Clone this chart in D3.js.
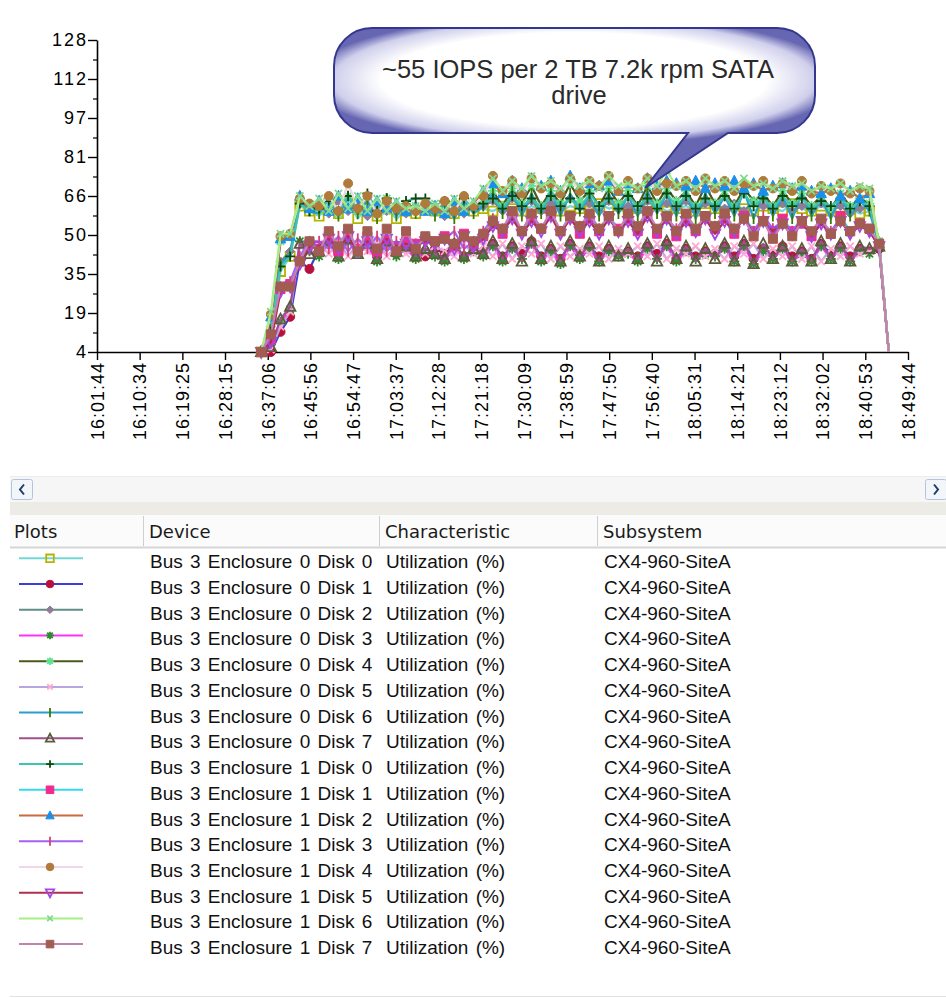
<!DOCTYPE html>
<html lang="en">
<head>
<meta charset="UTF-8">
<title>Bus 3 Disk Utilization</title>
<script src="https://d3js.org/d3.v7.min.js"></script>
<style>
  body { margin: 0; background: #fff; }
  svg text { font-family: "Liberation Sans", Arial, sans-serif; }
  .axis path, .axis line { stroke: #000; }
  .axis text { fill: #000; font-size: 18px; }
  .y-axis text { letter-spacing: 2px; }
  .x-axis text { letter-spacing: 1px; }
  .hdr { font-family: "DejaVu Sans", Tahoma, sans-serif !important; font-size: 18px; fill: #1a1a1a; }
  .row { font-size: 19px; fill: #111; word-spacing: 2px; }
</style>
</head>
<body>
<svg id="chart" width="946" height="998"></svg>
<script>
// x axis tick labels
const tickLabels = ["16:01:44", "16:10:34", "16:19:25", "16:28:15", "16:37:06", "16:45:56", "16:54:47",
  "17:03:37", "17:12:28", "17:21:18", "17:30:09", "17:38:59", "17:47:50", "17:56:40", "18:05:31",
  "18:14:21", "18:23:12", "18:32:02", "18:40:53", "18:49:44"];
// y axis ticks (labels shown rounded down)
const yTickValues = [4, 19.5, 35, 50.5, 66, 81.5, 97, 112.5, 128];
const yMinorValues = [11.75, 27.25, 42.75, 58.25, 73.75, 89.25, 104.75, 120.25];

// sample times (2 min interval)
const sampleTimes = [
  "16:35:45", "16:37:45", "16:39:45", "16:41:45", "16:43:45", "16:45:45", "16:47:45", "16:49:45",
  "16:51:45", "16:53:45", "16:55:45", "16:57:45", "16:59:45",
  "17:01:45", "17:03:45", "17:05:45", "17:07:45", "17:09:45", "17:11:45", "17:13:45", "17:15:45",
  "17:17:45", "17:19:45", "17:21:45", "17:23:45", "17:25:45", "17:27:45", "17:29:45", "17:31:45",
  "17:33:45", "17:35:45", "17:37:45", "17:39:45", "17:41:45", "17:43:45", "17:45:45", "17:47:45",
  "17:49:45", "17:51:45", "17:53:45", "17:55:45", "17:57:45", "17:59:45",
  "18:01:45", "18:03:45", "18:05:45", "18:07:45", "18:09:45", "18:11:45", "18:13:45", "18:15:45",
  "18:17:45", "18:19:45", "18:21:45", "18:23:45", "18:25:45", "18:27:45", "18:29:45", "18:31:45",
  "18:33:45", "18:35:45", "18:37:45", "18:39:45", "18:41:45", "18:43:45", "18:45:45"];

// utilization (%) per disk
const e0d0 = [4, 10, 36, 42, 62, 60,
  58, 63, 59, 64, 57, 62, 58, 61, 57, 60, 59, 61, 60, 62, 59, 63, 60,
  61, 60, 62, 61, 60, 62, 61, 63, 60, 62, 61, 60, 63, 61, 62, 60, 61, 63, 62, 60,
  61, 62, 60, 63, 61, 60, 62, 61, 60, 62, 61, 60, 63, 61, 60, 62, 60, 58, 61, 59, 60,
  46, 4];
const e0d1 = [4, 4, 12, 18, 40, 37,
  45, 48, 43, 49, 44, 47, 42, 48, 43, 46, 44, 42, 45, 43, 47, 42, 45,
  44, 47, 42, 46, 43, 48, 42, 45, 41, 47, 43, 46, 42, 45, 43, 44, 42, 46, 43, 47,
  41, 45, 42, 44, 43, 46, 42, 47, 41, 45, 43, 46, 42, 44, 41, 47, 43, 46, 42, 45, 44,
  45, 4];
const e0d2 = [4, 14, 40, 44, 63, 61,
  62, 59, 64, 60, 63, 58, 62, 60, 61, 59, 62, 60, 61, 58, 63, 59, 62,
  62, 64, 60, 65, 61, 64, 60, 63, 61, 65, 62, 63, 60, 64, 61, 62, 60, 64, 62, 63,
  61, 64, 60, 63, 62, 61, 63, 60, 64, 62, 61, 63, 60, 62, 61, 63, 60, 62, 59, 61, 62,
  48, 4];
const e0d3 = [4, 7, 16, 21, 48, 44,
  42, 47, 41, 48, 43, 46, 40, 47, 42, 45, 41, 44, 42, 40, 46, 41, 44,
  42, 46, 40, 45, 41, 47, 40, 44, 39, 46, 41, 45, 40, 44, 42, 43, 40, 45, 41, 46,
  40, 44, 41, 43, 42, 45, 40, 46, 39, 44, 41, 45, 40, 43, 40, 46, 41, 45, 40, 44, 43,
  46, 4];
const e0d4 = [4, 17, 48, 50, 64, 62,
  60, 65, 59, 66, 60, 64, 59, 65, 60, 63, 61, 62, 60, 64, 61, 65, 62,
  64, 68, 62, 69, 63, 70, 62, 68, 63, 71, 64, 68, 62, 69, 63, 68, 62, 70, 63, 69,
  64, 68, 62, 70, 63, 68, 62, 69, 64, 67, 62, 68, 63, 67, 62, 66, 61, 67, 62, 65, 63,
  48, 4];
const e0d5 = [4, 5, 14, 20, 46, 45,
  47, 43, 48, 42, 47, 44, 48, 42, 46, 43, 45, 43, 46, 44, 42, 47, 43,
  46, 42, 47, 41, 46, 43, 47, 41, 46, 42, 45, 43, 46, 41, 45, 43, 46, 42, 47, 41,
  45, 43, 46, 42, 45, 41, 46, 43, 47, 41, 45, 42, 46, 41, 46, 40, 45, 42, 46, 43, 44,
  47, 4];
const e0d6 = [4, 13, 39, 43, 64, 60,
  59, 65, 58, 66, 59, 64, 57, 65, 58, 63, 59, 62, 58, 63, 57, 64, 59,
  62, 67, 59, 68, 58, 67, 59, 68, 58, 67, 60, 66, 58, 67, 59, 66, 58, 68, 59, 67,
  58, 68, 57, 67, 59, 66, 58, 68, 57, 67, 58, 66, 57, 67, 58, 65, 57, 66, 58, 64, 60,
  47, 4];
const e0d7 = [4, 6, 17, 22, 47, 43,
  44, 48, 42, 49, 43, 47, 41, 48, 44, 46, 42, 45, 43, 41, 47, 42, 45,
  43, 48, 41, 47, 40, 48, 41, 46, 40, 48, 42, 47, 40, 46, 42, 45, 41, 47, 40, 48,
  41, 46, 40, 45, 41, 47, 40, 48, 39, 47, 41, 46, 40, 45, 40, 48, 41, 47, 40, 46, 45,
  46, 4];
const e1d0 = [4, 12, 38, 42, 63, 60,
  61, 64, 60, 66, 61, 67, 60, 65, 61, 64, 65, 65, 62, 64, 60, 65, 61,
  63, 65, 61, 66, 62, 65, 61, 66, 62, 65, 61, 67, 62, 65, 61, 66, 62, 65, 61, 67,
  62, 66, 61, 65, 62, 66, 61, 67, 62, 65, 61, 66, 62, 65, 61, 64, 62, 65, 61, 64, 62,
  47, 4];
const e1d1 = [4, 9, 29, 31, 40, 47,
  45, 50, 44, 51, 45, 50, 44, 49, 46, 48, 47, 49, 48, 50, 46, 51, 47,
  50, 55, 51, 58, 52, 57, 53, 59, 52, 58, 51, 57, 52, 58, 53, 57, 52, 59, 51, 57,
  50, 56, 52, 58, 53, 57, 51, 58, 52, 56, 51, 57, 52, 55, 50, 56, 51, 58, 52, 55, 53,
  47, 4];
const e1d2 = [4, 18, 49, 50, 66, 61,
  64, 60, 66, 61, 65, 60, 64, 61, 63, 60, 61, 60, 62, 59, 64, 60, 63,
  68, 71, 67, 72, 69, 73, 70, 72, 68, 74, 69, 71, 70, 72, 68, 71, 69, 73, 70, 72,
  71, 70, 72, 69, 71, 70, 72, 69, 71, 68, 70, 71, 69, 70, 68, 67, 69, 66, 68, 65, 67,
  47, 4];
const e1d3 = [4, 10, 30, 32, 42, 48,
  48, 45, 50, 44, 49, 45, 50, 44, 48, 46, 47, 48, 46, 49, 52, 45, 48,
  52, 57, 53, 58, 52, 59, 53, 58, 52, 57, 54, 58, 53, 57, 52, 58, 53, 59, 52, 57,
  53, 58, 52, 57, 54, 58, 53, 57, 52, 58, 53, 56, 52, 57, 51, 56, 52, 57, 51, 55, 52,
  46, 4];
const e1d4 = [4, 19, 50, 51, 65, 63,
  62, 66, 60, 71, 61, 66, 59, 64, 61, 62, 60, 63, 61, 64, 60, 66, 62,
  66, 74, 68, 72, 67, 73, 69, 71, 67, 73, 68, 72, 70, 74, 68, 72, 69, 73, 68, 71,
  70, 72, 68, 73, 69, 72, 68, 71, 70, 72, 69, 71, 68, 72, 67, 70, 68, 71, 67, 69, 68,
  47, 4];
const e1d5 = [4, 8, 28, 30, 39, 46,
  46, 49, 45, 50, 44, 48, 45, 49, 46, 47, 46, 48, 47, 49, 45, 50, 46,
  49, 54, 52, 57, 51, 56, 52, 58, 51, 57, 52, 56, 51, 57, 52, 56, 51, 58, 52, 57,
  51, 56, 52, 57, 51, 56, 52, 57, 51, 56, 52, 55, 51, 56, 50, 55, 51, 56, 51, 54, 52,
  46, 4];
const e1d6 = [4, 20, 51, 51, 66, 62,
  65, 60, 67, 61, 66, 60, 65, 60, 64, 61, 62, 60, 63, 60, 65, 61, 64,
  69, 73, 68, 72, 69, 74, 70, 72, 69, 73, 70, 72, 69, 74, 70, 71, 69, 73, 70, 76,
  70, 72, 69, 73, 70, 72, 69, 73, 70, 71, 69, 72, 70, 71, 68, 70, 69, 71, 68, 70, 69,
  47, 4];
const e1d7 = [4, 11, 30, 30, 40, 48,
  44, 52, 46, 53, 44, 52, 45, 53, 44, 52, 45, 50, 48, 49, 47, 50, 48,
  51, 56, 53, 60, 52, 59, 53, 60, 52, 58, 54, 59, 53, 58, 52, 59, 54, 60, 53, 58,
  52, 59, 53, 58, 54, 59, 53, 57, 50, 56, 49, 55, 50, 56, 52, 57, 51, 56, 52, 55, 53,
  47, 4];

const devices = ["Bus 3 Enclosure 0 Disk 0", "Bus 3 Enclosure 0 Disk 1", "Bus 3 Enclosure 0 Disk 2",
  "Bus 3 Enclosure 0 Disk 3", "Bus 3 Enclosure 0 Disk 4", "Bus 3 Enclosure 0 Disk 5",
  "Bus 3 Enclosure 0 Disk 6", "Bus 3 Enclosure 0 Disk 7", "Bus 3 Enclosure 1 Disk 0",
  "Bus 3 Enclosure 1 Disk 1", "Bus 3 Enclosure 1 Disk 2", "Bus 3 Enclosure 1 Disk 3",
  "Bus 3 Enclosure 1 Disk 4", "Bus 3 Enclosure 1 Disk 5", "Bus 3 Enclosure 1 Disk 6",
  "Bus 3 Enclosure 1 Disk 7"];
const seriesValues = [e0d0, e0d1, e0d2, e0d3, e0d4, e0d5, e0d6, e0d7,
  e1d0, e1d1, e1d2, e1d3, e1d4, e1d5, e1d6, e1d7];
const lineColors = ["#72d8d6", "#3d3dd8", "#5f8f86", "#ff30ff", "#4a5a1c", "#b7a6e0", "#2a9fca", "#a0508e",
  "#3fc2ae", "#34d8ea", "#cc6a3c", "#a462f2", "#f0d6e6", "#b02e52", "#a4f084", "#c482b2"];
const markerColors = ["#b4b400", "#b8103c", "#8e7c98", "#2f8a2f", "#5ee28e", "#ffa8d2", "#3a7a00", "#5c5c3c",
  "#0c4a0c", "#f22a8e", "#1a8fea", "#d8406e", "#b07a3a", "#a446e2", "#84d890", "#a25c52"];
const markerTypes = ["squareOpen", "circle", "diamond", "asterisk", "asterisk", "cross", "vbar", "triangleOpen",
  "plus", "square", "triangle", "vbar", "circle", "triangleDownOpen", "cross", "square"];
const characteristic = "Utilization (%)";
const subsystem = "CX4-960-SiteA";

const parseTime = d3.timeParse("%H:%M:%S");
const svg = d3.select("#chart");

const plot = { left: 97, right: 908, top: 40, bottom: 352 };
const x = d3.scaleTime()
  .domain([parseTime(tickLabels[0]), parseTime(tickLabels[tickLabels.length - 1])])
  .range([plot.left, plot.right]);
const y = d3.scaleLinear().domain([4, 128]).range([plot.bottom, plot.top]);
const times = sampleTimes.map(parseTime);

// marker shapes, centred on 0,0
const filledTypes = ["circle", "square", "diamond", "triangle"];
function markerPath(type, s) {
  const k = s * 0.72;
  switch (type) {
    case "squareOpen":
    case "square": return `M${-s},${-s}H${s}V${s}H${-s}Z`;
    case "circle": return `M${s},0A${s},${s} 0 1 1 ${-s},0A${s},${s} 0 1 1 ${s},0Z`;
    case "diamond": return `M0,${-s}L${s},0L0,${s}L${-s},0Z`;
    case "asterisk": return `M${-s},0H${s}M0,${-s}V${s}M${-k},${-k}L${k},${k}M${-k},${k}L${k},${-k}`;
    case "cross": return `M${-k},${-k}L${k},${k}M${-k},${k}L${k},${-k}`;
    case "plus": return `M${-s},0H${s}M0,${-s}V${s}`;
    case "vbar": return `M0,${-s * 1.2}V${s * 1.2}`;
    case "triangleOpen":
    case "triangle": return `M0,${-s * 1.1}L${s},${s * 0.8}L${-s},${s * 0.8}Z`;
    case "triangleDownOpen": return `M${-s},${-s * 0.8}L${s},${-s * 0.8}L0,${s * 1.1}Z`;
  }
}
function styleMarker(sel, type, color) {
  const filled = filledTypes.includes(type);
  sel.attr("fill", filled ? color : "none")
    .attr("stroke", color)
    .attr("stroke-width", filled ? 1 : 1.8);
}
function chartSize(type) {
  if (type.startsWith("triangle")) return 5.2;
  if (type === "asterisk" || type === "cross" || type === "plus") return 5;
  return 4.5;
}

// axes
const yAxis = svg.append("g")
  .attr("class", "axis y-axis")
  .attr("transform", `translate(${plot.left},0)`)
  .call(d3.axisLeft(y).tickValues(yTickValues).tickFormat(d => Math.floor(d))
    .tickSize(9).tickSizeOuter(0).tickPadding(0));
yAxis.select(".domain").attr("stroke-width", 1.6);
yAxis.selectAll(".tick line").attr("stroke-width", 1.4);

svg.append("g")
  .attr("class", "axis")
  .attr("transform", `translate(${plot.left},0)`)
  .call(d3.axisLeft(y).tickValues(yMinorValues).tickFormat("").tickSize(4).tickSizeOuter(0))
  .call(g => g.select(".domain").remove())
  .selectAll(".tick line").attr("stroke-width", 1.2);

const xAxis = svg.append("g")
  .attr("class", "axis x-axis")
  .attr("transform", `translate(0,${plot.bottom})`)
  .call(d3.axisBottom(x).tickValues(tickLabels.map(parseTime))
    .tickFormat(d3.timeFormat("%H:%M:%S")).tickSize(8).tickSizeOuter(0));
xAxis.select(".domain").attr("stroke-width", 1.6);
xAxis.selectAll(".tick line").attr("stroke-width", 1.4);
xAxis.selectAll(".tick text")
  .attr("transform", "rotate(-90)")
  .attr("text-anchor", "end")
  .attr("x", -10)
  .attr("y", 0)
  .attr("dy", "0.35em");

// series lines + markers
const line = d3.line()
  .x((d, i) => x(times[i]))
  .y(d => y(d));

const seriesG = svg.append("g");
seriesValues.forEach((vals, s) => {
  const g = seriesG.append("g");
  g.append("path")
    .attr("d", line(vals))
    .attr("fill", "none")
    .attr("stroke", lineColors[s])
    .attr("stroke-width", 2.2)
    .attr("stroke-linejoin", "round");
  g.selectAll("path.mk")
    .data(vals.slice(0, vals.length - 1))
    .join("path")
    .attr("class", "mk")
    .attr("transform", (d, i) => `translate(${x(times[i])},${y(d)})`)
    .attr("d", markerPath(markerTypes[s], chartSize(markerTypes[s])))
    .call(sel => styleMarker(sel, markerTypes[s], markerColors[s]));
});

// callout bubble
const defs = svg.append("defs");
const grad = defs.append("radialGradient")
  .attr("id", "bubbleGrad")
  .attr("gradientUnits", "userSpaceOnUse")
  .attr("cx", 0).attr("cy", 0).attr("r", 1)
  .attr("gradientTransform", "translate(574,80) scale(268,66)");
grad.append("stop").attr("offset", "0%").attr("stop-color", "#ffffff");
grad.append("stop").attr("offset", "72%").attr("stop-color", "#ffffff");
grad.append("stop").attr("offset", "90%").attr("stop-color", "#cfcfec");
grad.append("stop").attr("offset", "100%").attr("stop-color", "#6666b2");

const b = { x0: 334, y0: 28, x1: 815, y1: 133, r: 38, ta: 688, tb: 728, tx: 645, ty: 188 };
svg.append("path")
  .attr("d", `M${b.x0 + b.r},${b.y0}H${b.x1 - b.r}A${b.r},${b.r} 0 0 1 ${b.x1},${b.y0 + b.r}` +
    `V${b.y1 - b.r}A${b.r},${b.r} 0 0 1 ${b.x1 - b.r},${b.y1}H${b.tb}L${b.tx},${b.ty}L${b.ta},${b.y1}` +
    `H${b.x0 + b.r}A${b.r},${b.r} 0 0 1 ${b.x0},${b.y1 - b.r}V${b.y0 + b.r}A${b.r},${b.r} 0 0 1 ${b.x0 + b.r},${b.y0}Z`)
  .attr("fill", "url(#bubbleGrad)")
  .attr("stroke", "#34378e")
  .attr("stroke-width", 2);
const callout = svg.append("text")
  .attr("text-anchor", "middle")
  .attr("font-size", 25.5)
  .attr("fill", "#2a2a2a");
callout.append("tspan").attr("x", 578).attr("y", 78).text("~55 IOPS per 2 TB 7.2k rpm SATA");
callout.append("tspan").attr("x", 579).attr("y", 104).text("drive");

// legend table
const tbl = svg.append("g");
tbl.append("rect").attr("x", 10).attr("y", 477).attr("width", 936).attr("height", 25).attr("fill", "#f6f6f6");
tbl.append("line").attr("x1", 10).attr("x2", 946).attr("y1", 476.5).attr("y2", 476.5).attr("stroke", "#ececec");
[{ bx: 11.5, dir: -1 }, { bx: 925.5, dir: 1 }].forEach(btn => {
  tbl.append("rect").attr("x", btn.bx).attr("y", 479.5).attr("width", 21).attr("height", 20).attr("rx", 2)
    .attr("fill", "#f2f5fa").attr("stroke", "#b4c4dc");
  const cx = btn.bx + 10.5;
  tbl.append("path")
    .attr("d", `M${cx - 2 * btn.dir},${484.5}L${cx + 2 * btn.dir},${489.5}L${cx - 2 * btn.dir},${494.5}`)
    .attr("fill", "none").attr("stroke", "#203a6a").attr("stroke-width", 2);
});
tbl.append("rect").attr("x", 10).attr("y", 502).attr("width", 936).attr("height", 13).attr("fill", "#ecebe5");
tbl.append("rect").attr("x", 10).attr("y", 515).attr("width", 936).attr("height", 32).attr("fill", "#fbfbfb");
tbl.append("line").attr("x1", 10).attr("x2", 946).attr("y1", 547.5).attr("y2", 547.5).attr("stroke", "#d6d6d6").attr("stroke-width", 2);
[143, 379, 597].forEach(sx => {
  tbl.append("line").attr("x1", sx + 0.5).attr("x2", sx + 0.5).attr("y1", 516).attr("y2", 546).attr("stroke", "#cfcfcf");
});
const headers = ["Plots", "Device", "Characteristic", "Subsystem"];
const headerX = [14, 149, 385, 603];
headers.forEach((h, i) => {
  tbl.append("text").attr("class", "hdr").attr("x", headerX[i]).attr("y", 538).text(h);
});

const rowY = d3.range(devices.length).map(i => 558.3 + i * 25.72);
devices.forEach((dev, i) => {
  const ry = rowY[i];
  tbl.append("line").attr("x1", 19).attr("x2", 83).attr("y1", ry).attr("y2", ry)
    .attr("stroke", lineColors[i]).attr("stroke-width", 2);
  tbl.append("path")
    .attr("transform", `translate(50,${ry})`)
    .attr("d", markerPath(markerTypes[i], markerTypes[i].startsWith("triangle") ? 4.2 : 3.8))
    .call(sel => styleMarker(sel, markerTypes[i], markerColors[i]));
  tbl.append("text").attr("class", "row").attr("x", 150).attr("y", ry + 10).text(dev);
  tbl.append("text").attr("class", "row").attr("x", 386).attr("y", ry + 10).text(characteristic);
  tbl.append("text").attr("class", "row").attr("x", 604).attr("y", ry + 10).text(subsystem);
});
tbl.append("line").attr("x1", 10).attr("x2", 946).attr("y1", 996.5).attr("y2", 996.5).attr("stroke", "#e2e2e2");
</script>
</body>
</html>
